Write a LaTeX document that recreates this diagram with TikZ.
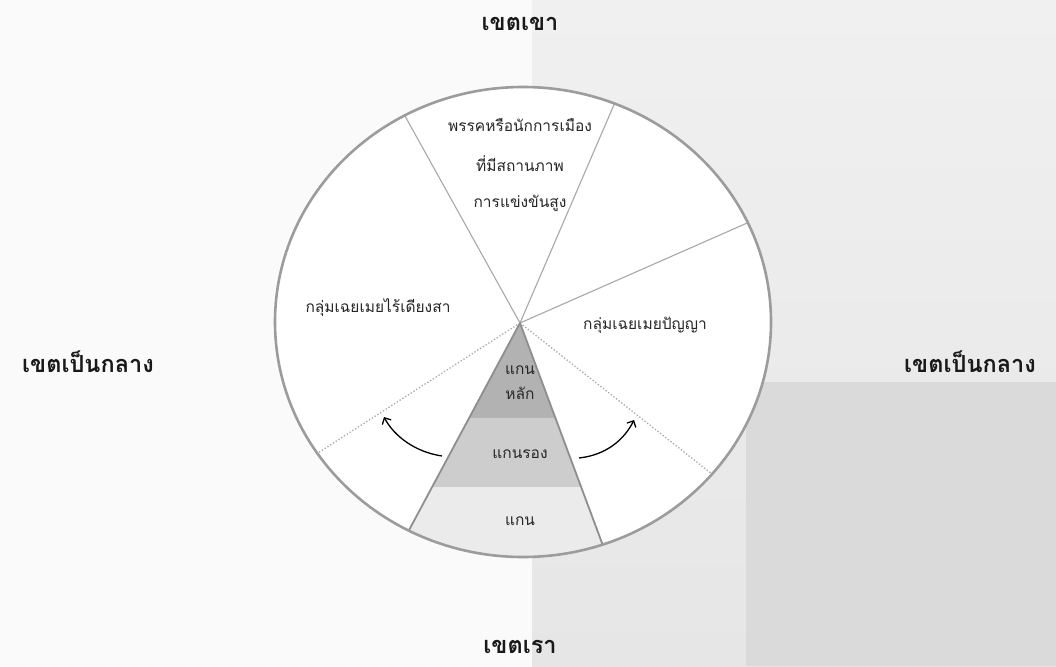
\documentclass[tikz,border=0pt]{standalone}
\usepackage{fontspec}
\newfontfamily\thai[Script=Thai]{Loma}
\usetikzlibrary{arrows.meta,calc}
\definecolor{rimgray}{HTML}{9C9C9C}
\definecolor{spokegray}{HTML}{A8A8A8}
\definecolor{conegray}{HTML}{8E8E8E}
\definecolor{bandA}{HTML}{B2B2B2}
\definecolor{bandB}{HTML}{CDCDCD}
\definecolor{bandC}{HTML}{EBEBEB}
\definecolor{pagegray}{HTML}{E6E6E6}
\definecolor{pagedark}{HTML}{DADADA}
\tikzset{
  rim/.style={draw=rimgray, line width=2.6pt},
  spoke/.style={draw=spokegray, line width=1.1pt},
  conedge/.style={draw=conegray, line width=1.8pt},
  dotspoke/.style={draw=spokegray, line width=1.3pt, dotted},
  movearrow/.style={draw=black, line width=1.3pt, -{Straight Barb[length=5pt,width=10pt]}},
  intext/.style={font=\thai\fontsize{15.5}{17}\selectfont, text=black!85, inner sep=0pt},
  zonetext/.style={font=\thai\bfseries\fontsize{23.5}{25}\selectfont, text=black!90, inner sep=0pt}
}
\begin{document}
\begin{tikzpicture}[x=1pt,y=-1pt]
\useasboundingbox (0,0) rectangle (1056,666);
% page background
\fill[white!98!black] (0,0) rectangle (1056,666);
\shade[top color=pagegray!60, bottom color=pagegray] (532,0) rectangle (1056,666);
\fill[pagedark] (746,382) rectangle (1056,666);
% circle
\coordinate (O) at (523,322);
\coordinate (C) at (520,323);
\fill[white] (O) ellipse [x radius=248, y radius=235];
% cone
\coordinate (BL) at (408,532);
\coordinate (BR) at (602,543);
\begin{scope}
  \clip (O) ellipse [x radius=248, y radius=235];
  \clip (C) -- ($(C)!1.6!(BL)$) -- ($(C)!1.6!(BR)$) -- cycle;
  \fill[bandA] (300,300) rectangle (750,418);
  \fill[bandB] (300,418) rectangle (750,487);
  \fill[bandC] (300,487) rectangle (750,600);
\end{scope}
% spokes
\begin{scope}
  \clip (O) ellipse [x radius=248, y radius=235];
  \draw[spoke] (C) -- ++(-150,-270);
  \draw[spoke] (C) -- ++(121,-281);
  \draw[spoke] (C) -- ++(284,-125);
  \draw[dotspoke] (C) -- ++(234,184);
  \draw[dotspoke] (C) -- ++(-241,155);
  \draw[conedge] (C) -- ($(C)!1.3!(BL)$);
  \draw[conedge] (C) -- ($(C)!1.3!(BR)$);
\end{scope}
\draw[rim] (O) ellipse [x radius=248, y radius=235];
% arrows
\coordinate (la1) at (442,456);
\coordinate (la2) at (384,417);
\coordinate (ra1) at (579,458);
\coordinate (ra2) at (634,420);
\draw[movearrow] (la1) .. controls (415,452) and (394,436) .. (la2);
\draw[movearrow] (ra1) .. controls (606,455) and (624,440) .. (ra2);
% inner texts
\node[intext] (t1) at (520,125) {พรรคหรือนักการเมือง};
\node[intext] (t2) at (520,164) {ที่มีสถานภาพ};
\node[intext] (t3) at (520,203) {การแข่งขันสูง};
\node[intext] (nl) at (378,308) {กลุ่มเฉยเมยไร้เดียงสา};
\node[intext] (nr) at (645,325) {กลุ่มเฉยเมยปัญญา};
\node[intext] (k1) at (520,370) {แกน};
\node[intext] (k2) at (520,393) {หลัก};
\node[intext] (k3) at (520,454) {แกนรอง};
\node[intext] (k4) at (520,521) {แกน};
% zone labels
\node[zonetext] (zt) at (520,24) {เขตเขา};
\node[zonetext] (zb) at (520,647) {เขตเรา};
\node[zonetext] (zl) at (88,362) {เขตเป็นกลาง};
\node[zonetext] (zr) at (970,362) {เขตเป็นกลาง};
\end{tikzpicture}
\end{document}
